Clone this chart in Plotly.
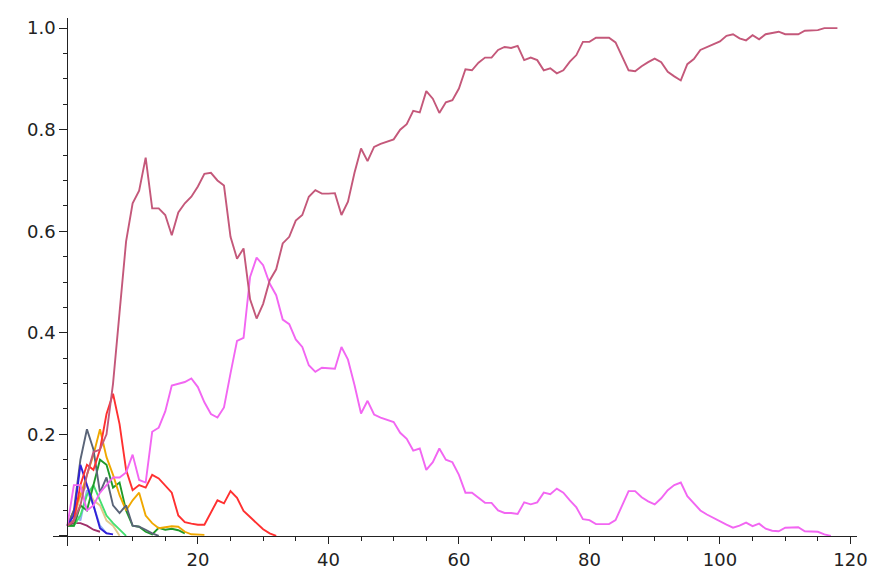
import plotly.graph_objects as go

# series values, one point per step (x = 0, 1, 2, ...)
rose = [0.02, 0.03, 0.06, 0.12, 0.165, 0.17, 0.2, 0.3, 0.44, 0.58,
        0.655, 0.68, 0.745, 0.645, 0.645, 0.632, 0.592, 0.637, 0.655, 0.668,
        0.688, 0.713, 0.715, 0.70, 0.69, 0.589, 0.546, 0.566, 0.466, 0.428,
        0.457, 0.503, 0.525, 0.576, 0.589, 0.621, 0.632, 0.668, 0.681, 0.674,
        0.674, 0.675, 0.632, 0.658, 0.715, 0.763, 0.738, 0.766, 0.772, 0.777,
        0.781, 0.80, 0.811, 0.837, 0.834, 0.876, 0.861, 0.833, 0.854, 0.858,
        0.881, 0.919, 0.917, 0.932, 0.942, 0.942, 0.957, 0.963, 0.961, 0.965,
        0.937, 0.942, 0.937, 0.917, 0.921, 0.911, 0.917, 0.934, 0.947, 0.973,
        0.973, 0.981, 0.981, 0.981, 0.972, 0.945, 0.917, 0.915, 0.925, 0.933,
        0.94, 0.933, 0.914, 0.905, 0.897, 0.929, 0.939, 0.957, 0.963, 0.968,
        0.974, 0.985, 0.988, 0.98, 0.976, 0.986, 0.978, 0.988, 0.991, 0.993,
        0.988, 0.988, 0.988, 0.995, 0.996, 0.996, 1.0, 1.0, 1.0]

pink = [0.02, 0.1, 0.1, 0.05, 0.06, 0.085, 0.1, 0.115, 0.115, 0.125,
        0.16, 0.11, 0.105, 0.205, 0.213, 0.245, 0.296, 0.30, 0.303, 0.31,
        0.293, 0.263, 0.24, 0.233, 0.253, 0.32, 0.384, 0.39, 0.51, 0.548,
        0.533, 0.497, 0.474, 0.426, 0.417, 0.387, 0.372, 0.336, 0.323, 0.331,
        0.33, 0.329, 0.372, 0.347, 0.297, 0.241, 0.266, 0.239, 0.233, 0.228,
        0.224, 0.203, 0.191, 0.168, 0.172, 0.13, 0.145, 0.172, 0.15, 0.145,
        0.12, 0.085, 0.085, 0.075, 0.065, 0.065, 0.05, 0.045, 0.045, 0.043,
        0.066, 0.062, 0.066, 0.085, 0.082, 0.093, 0.085, 0.07, 0.056, 0.033,
        0.031, 0.023, 0.023, 0.023, 0.031, 0.06, 0.088, 0.088, 0.076, 0.068,
        0.062, 0.074, 0.09, 0.1, 0.105, 0.078, 0.065, 0.05, 0.042, 0.035,
        0.028, 0.022, 0.016, 0.02, 0.026, 0.019, 0.024, 0.014, 0.01, 0.009,
        0.016, 0.017, 0.017, 0.009, 0.008, 0.008, 0.003, 0.0]

red = [0.02, 0.03, 0.1, 0.14, 0.13, 0.17, 0.24, 0.28, 0.22, 0.13,
       0.09, 0.1, 0.095, 0.12, 0.113, 0.1, 0.085, 0.04, 0.027, 0.024,
       0.022, 0.022, 0.045, 0.07, 0.064, 0.088, 0.075, 0.049, 0.037, 0.025,
       0.013, 0.005, 0.0]

orange = [0.02, 0.05, 0.08, 0.12, 0.16, 0.21, 0.155, 0.12, 0.08, 0.05,
          0.07, 0.085, 0.04, 0.025, 0.015, 0.017, 0.019, 0.018, 0.008, 0.003,
          0.003, 0.002]

slate = [0.02, 0.05, 0.15, 0.21, 0.17, 0.085, 0.115, 0.06, 0.045, 0.06,
         0.02, 0.018, 0.012, 0.005, 0.0]

green = [0.02, 0.02, 0.06, 0.05, 0.1, 0.15, 0.14, 0.095, 0.105, 0.05,
         0.02, 0.018, 0.008, 0.003, 0.016, 0.012, 0.014, 0.011, 0.005]

light_green = [0.02, 0.02, 0.04, 0.08, 0.1, 0.07, 0.04, 0.025, 0.012, 0.0]

blue = [0.02, 0.04, 0.14, 0.1, 0.06, 0.015, 0.005, 0.003]

light_blue = [0.02, 0.05, 0.03, 0.09, 0.06, 0.02, 0.005]

tan = [0.02, 0.03, 0.08, 0.1, 0.07, 0.06, 0.03, 0.02, 0.0]

plum = [0.02, 0.025, 0.025, 0.02, 0.012, 0.008]

series = [
    (light_blue, "#8fb0f0"),
    (tan, "#e3c98a"),
    (plum, "#a0306a"),
    (light_green, "#44e070"),
    (green, "#1f9a2a"),
    (orange, "#f0a800"),
    (slate, "#5a6478"),
    (blue, "#3020d8"),
    (red, "#ff3030"),
    (pink, "#f266f2"),
    (rose, "#c4587a"),
]

fig = go.Figure()
for vals, col in series:
    fig.add_trace(go.Scatter(x=list(range(len(vals))), y=vals, mode="lines",
                             line=dict(color=col, width=1.9)))

xticks = [0, 20, 40, 60, 80, 100, 120]
xlabels = ["", "20", "40", "60", "80", "100", "120"]
yticks = [0, 0.2, 0.4, 0.6, 0.8, 1.0]
ylabels = ["", "0.2", "0.4", "0.6", "0.8", "1.0"]

tfont = dict(family="DejaVu Sans", size=18, color="#222222")

# page body has an 8px margin, so the figure is 8px smaller each way
fig.update_layout(
    width=884, height=580,
    margin=dict(l=45, r=35, t=10, b=42),
    plot_bgcolor="white", paper_bgcolor="white",
    showlegend=False,
    xaxis=dict(range=[-2.2, 121], anchor="free", position=0.01923,
               automargin=False,
               showgrid=False, zeroline=False, showline=True,
               linecolor="#222222", linewidth=1.2,
               tickvals=xticks, ticktext=xlabels, ticks="outside",
               ticklen=7, tickwidth=1.2, tickcolor="#222222", tickfont=tfont,
               minor=dict(dtick=5, tick0=0, ticks="outside", ticklen=4,
                          tickwidth=1.2, tickcolor="#222222", showgrid=False)),
    yaxis=dict(range=[-0.02, 1.02], anchor="free", position=0.01779,
               automargin=False,
               showgrid=False, zeroline=False, showline=True,
               linecolor="#222222", linewidth=1.2,
               tickvals=yticks, ticktext=ylabels, ticks="outside",
               ticklen=8, tickwidth=1.2, tickcolor="#222222", tickfont=tfont,
               minor=dict(dtick=0.05, tick0=0, ticks="outside", ticklen=4,
                          tickwidth=1.2, tickcolor="#222222", showgrid=False)),
)

fig.write_html("out.html")
